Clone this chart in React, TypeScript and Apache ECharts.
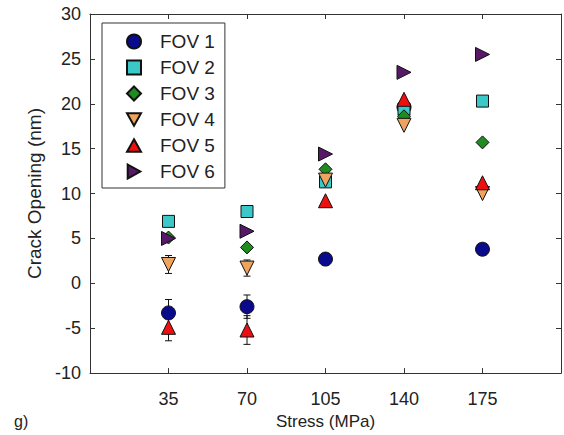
import React, { useEffect, useRef } from "react";
import * as echarts from "echarts";

const stress = [35, 70, 105, 140, 175];
const seriesNames = ["FOV 1", "FOV 2", "FOV 3", "FOV 4", "FOV 5", "FOV 6"];
const fov1 = [-3.3, -2.6, 2.7, 19.6, 3.8];
const fov2 = [6.9, 8.0, 11.3, 19.4, 20.3];
const fov3 = [5.1, 4.0, 12.7, 18.6, 15.7];
const fov4 = [2.1, 1.7, 11.5, 17.6, 10.0];
const fov5 = [-4.9, -5.2, 9.2, 20.5, 11.2];
const fov6 = [5.0, 5.8, 14.4, 23.5, 25.5];
const fov1Err = [1.5, 1.3, 0.6, 0, 0];
const fov2Err = [0, 0, 0, 0, 0];
const fov3Err = [0, 0, 0, 0, 0];
const fov4Err = [1.0, 0.9, 0, 0, 0];
const fov5Err = [1.5, 1.6, 0, 0, 0];
const fov6Err = [0, 0, 0, 0, 0];

const values = [fov1, fov2, fov3, fov4, fov5, fov6];
const errors = [fov1Err, fov2Err, fov3Err, fov4Err, fov5Err, fov6Err];
const colors = ["#0a0a8c", "#3cc8c8", "#1e8c1e", "#eea45e", "#ee1010", "#581868"];
const symbols = ["circle", "rect", "diamond", "triangle", "triangle", "triangle"];
const rotations = [0, 0, 0, 180, 0, -90];
const sizes = [14, 12, 13, 14, 14, 14];
const legendIcons = [
  "circle",
  "rect",
  "diamond",
  "path://M0,0L10,0L5,9Z",
  "path://M5,0L10,9L0,9Z",
  "path://M0,0L9,5L0,10Z",
];

const FONT = "'Liberation Sans', Arial, sans-serif";

export default function App() {
  const ref = useRef<HTMLDivElement>(null);
  useEffect(() => {
    if (!ref.current) return;
    const chart = echarts.init(ref.current, undefined, { renderer: "svg" });
    const series: any[] = [];
    values.forEach((vals, i) => {
      const errData = stress
        .map((x, j) => [x, vals[j] - errors[i][j], vals[j] + errors[i][j], errors[i][j]])
        .filter((d) => d[3] > 0);
      series.push({
        type: "custom",
        name: seriesNames[i] + " err",
        xAxisIndex: 0,
        yAxisIndex: 0,
        data: errData,
        z: 2,
        renderItem: (params: any, api: any) => {
          const x = api.value(0);
          const lo = api.value(1);
          const hi = api.value(2);
          const p1 = api.coord([x, hi]);
          const p2 = api.coord([x, lo]);
          const w = 3.5;
          const st = { stroke: "#111", lineWidth: 1 };
          return {
            type: "group",
            children: [
              { type: "line", shape: { x1: p1[0], y1: p1[1], x2: p2[0], y2: p2[1] }, style: st },
              { type: "line", shape: { x1: p1[0] - w, y1: p1[1], x2: p1[0] + w, y2: p1[1] }, style: st },
              { type: "line", shape: { x1: p2[0] - w, y1: p2[1], x2: p2[0] + w, y2: p2[1] }, style: st },
            ],
          };
        },
      });
      series.push({
        type: "scatter",
        name: seriesNames[i],
        data: stress.map((x, j) => [x, vals[j]]),
        symbol: symbols[i],
        symbolRotate: rotations[i],
        symbolSize: sizes[i],
        z: 2,
        itemStyle: { color: colors[i], borderColor: "#111", borderWidth: 1, opacity: 1 },
      });
    });
    const axisLine = { show: true, onZero: false, lineStyle: { color: "#333", width: 1 } };
    const tick = { inside: true, length: 5, lineStyle: { color: "#333" } };
    chart.setOption({
      animation: false,
      grid: { left: 90, top: 14, bottom: 53, right: -4 },
      xAxis: [
        {
          type: "value",
          min: 0,
          max: 210,
          interval: 35,
          position: "bottom",
          axisLine,
          axisTick: tick,
          splitLine: { show: false },
          axisLabel: {
            margin: 17,
            fontSize: 18,
            fontFamily: FONT,
            color: "#222",
            formatter: (v: number) => (v === 0 || v === 210 ? "" : String(v)),
          },
          name: "Stress (MPa)",
          nameLocation: "middle",
          nameGap: 39,
          nameTextStyle: { fontSize: 17, fontFamily: FONT, color: "#222" },
        },
        {
          type: "value",
          min: 0,
          max: 210,
          interval: 35,
          position: "top",
          axisLine,
          axisTick: tick,
          splitLine: { show: false },
          axisLabel: { show: false },
        },
      ],
      yAxis: [
        {
          type: "value",
          min: -10,
          max: 30,
          interval: 5,
          position: "left",
          axisLine,
          axisTick: tick,
          splitLine: { show: false },
          axisLabel: { margin: 9, fontSize: 18, fontFamily: FONT, color: "#222" },
          name: "Crack Opening (nm)",
          nameLocation: "middle",
          nameGap: 45,
          nameTextStyle: { fontSize: 19, fontFamily: FONT, color: "#222" },
        },
        {
          type: "value",
          min: -10,
          max: 30,
          interval: 5,
          position: "right",
          axisLine,
          axisTick: tick,
          splitLine: { show: false },
          axisLabel: { show: false },
        },
      ],
      legend: {
        data: seriesNames.map((n, i) => ({ name: n, icon: legendIcons[i] })),
        orient: "vertical",
        left: 102,
        top: 23,
        width: 122,
        padding: [9, 10, 7, 24],
        itemWidth: 14,
        itemHeight: 14,
        itemGap: 7,
        borderColor: "#333",
        borderWidth: 1,
        backgroundColor: "#fff",
        textStyle: { fontSize: 19, fontFamily: FONT, color: "#222", padding: [0, 0, 0, 14] },
      },
      graphic: [
        {
          type: "text",
          left: 14,
          top: 413,
          style: { text: "g)", fontSize: 16, fontFamily: FONT, fill: "#222" },
        },
      ],
      series,
    });
    return () => chart.dispose();
  }, []);
  return (
    <div
      ref={ref}
      style={{ position: "absolute", left: 0, top: 0, width: 564, height: 435, overflow: "hidden" }}
    />
  );
}
